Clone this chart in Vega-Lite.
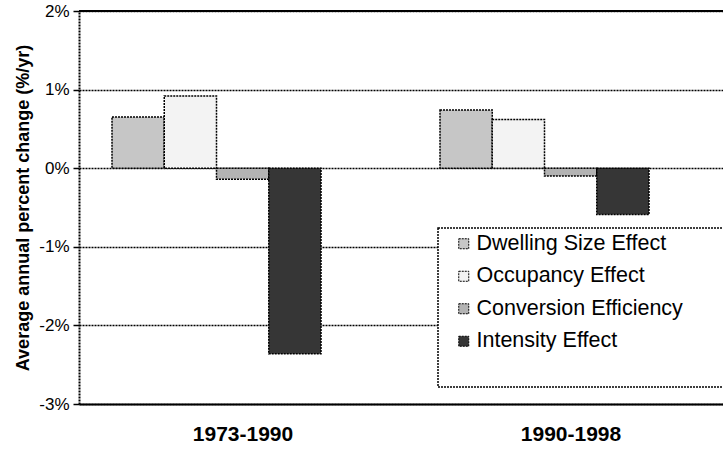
{
  "$schema": "https://vega.github.io/schema/vega-lite/v6.json",
  "width": 644,
  "height": 393,
  "autosize": {"type": "none"},
  "padding": {"left": 79, "top": 11, "right": 0, "bottom": 45},
  "background": "white",
  "config": {"view": {"stroke": null}, "font": "Liberation Sans"},
  "layer": [
    {
      "data": {"values": [
        {"period": "1973-1990", "effect": "Dwelling Size Effect", "value": 0.65},
        {"period": "1973-1990", "effect": "Occupancy Effect", "value": 0.92},
        {"period": "1973-1990", "effect": "Conversion Efficiency", "value": -0.14},
        {"period": "1973-1990", "effect": "Intensity Effect", "value": -2.36},
        {"period": "1990-1998", "effect": "Dwelling Size Effect", "value": 0.74},
        {"period": "1990-1998", "effect": "Occupancy Effect", "value": 0.62},
        {"period": "1990-1998", "effect": "Conversion Efficiency", "value": -0.10},
        {"period": "1990-1998", "effect": "Intensity Effect", "value": -0.59}
      ]},
      "mark": {"type": "bar", "stroke": "black", "strokeDash": [2, 1], "strokeWidth": 1.5},
      "encoding": {
        "x": {
          "field": "period", "type": "nominal",
          "scale": {"range": [0, 656], "paddingInner": 0, "paddingOuter": 0},
          "axis": {"title": null, "labelAngle": 0, "labelFont": "Liberation Sans", "labelFontSize": 21, "labelFontWeight": "bold", "labelColor": "black", "labelPadding": 19, "ticks": false, "domainColor": "black", "domainWidth": 2, "grid": false}
        },
        "xOffset": {
          "field": "effect", "type": "nominal",
          "scale": {"domain": ["Dwelling Size Effect", "Occupancy Effect", "Conversion Efficiency", "Intensity Effect"], "range": [33, 242], "paddingInner": 0, "paddingOuter": 0}
        },
        "y": {
          "field": "value", "type": "quantitative",
          "scale": {"domain": [-3, 2], "nice": false, "zero": false},
          "axis": {
            "title": "Average annual percent change (%/yr)",
            "titleFont": "Liberation Sans", "titleFontSize": 18, "titleFontWeight": "bold", "titleColor": "black", "titlePadding": 6,
            "values": [-3, -2, -1, 0, 1, 2],
            "labelExpr": "datum.value + '%'",
            "labelFont": "Liberation Sans", "labelFontSize": 17, "labelColor": "black", "labelPadding": 4,
            "tickColor": "black", "tickSize": 6, "tickWidth": 1.5,
            "domainColor": "black", "domainDash": [2, 1], "domainWidth": 2,
            "grid": true, "gridColor": "black", "gridDash": [2, 1], "gridWidth": 1.3
          }
        },
        "color": {
          "field": "effect", "type": "nominal",
          "scale": {"domain": ["Dwelling Size Effect", "Occupancy Effect", "Conversion Efficiency", "Intensity Effect"], "range": ["#c6c6c6", "#f3f3f3", "#b3b3b3", "#363636"]},
          "legend": {
            "title": "\u200b\u00a0\u200b", "titleOrient": "bottom", "titleFontSize": 20, "titlePadding": 10,
            "orient": "none", "legendX": 359, "legendY": 217, "direction": "vertical",
            "symbolType": "square", "symbolSize": 100, "symbolStrokeColor": "black", "symbolStrokeWidth": 1, "symbolDash": [2, 1], "symbolOpacity": 1,
            "labelFont": "Liberation Sans", "labelFontSize": 21.5, "labelColor": "black", "labelOffset": 2, "labelLimit": 400,
            "labelExpr": "datum.label + '\u00a0\u00a0\u00a0\u00a0\u00a0\u00a0\u200b'",
            "rowPadding": 9.5, "padding": 5, "symbolOffset": 10,
            "strokeColor": "black", "fillColor": "white",
            "encode": {"legend": {"update": {"strokeDash": {"value": [2, 1]}, "strokeWidth": {"value": 1.5}}}}
          }
        }
      }
    },
    {
      "data": {"values": [{"top": 2}]},
      "mark": {"type": "rule", "color": "black", "strokeWidth": 2},
      "encoding": {"y": {"field": "top", "type": "quantitative"}}
    }
  ]
}
